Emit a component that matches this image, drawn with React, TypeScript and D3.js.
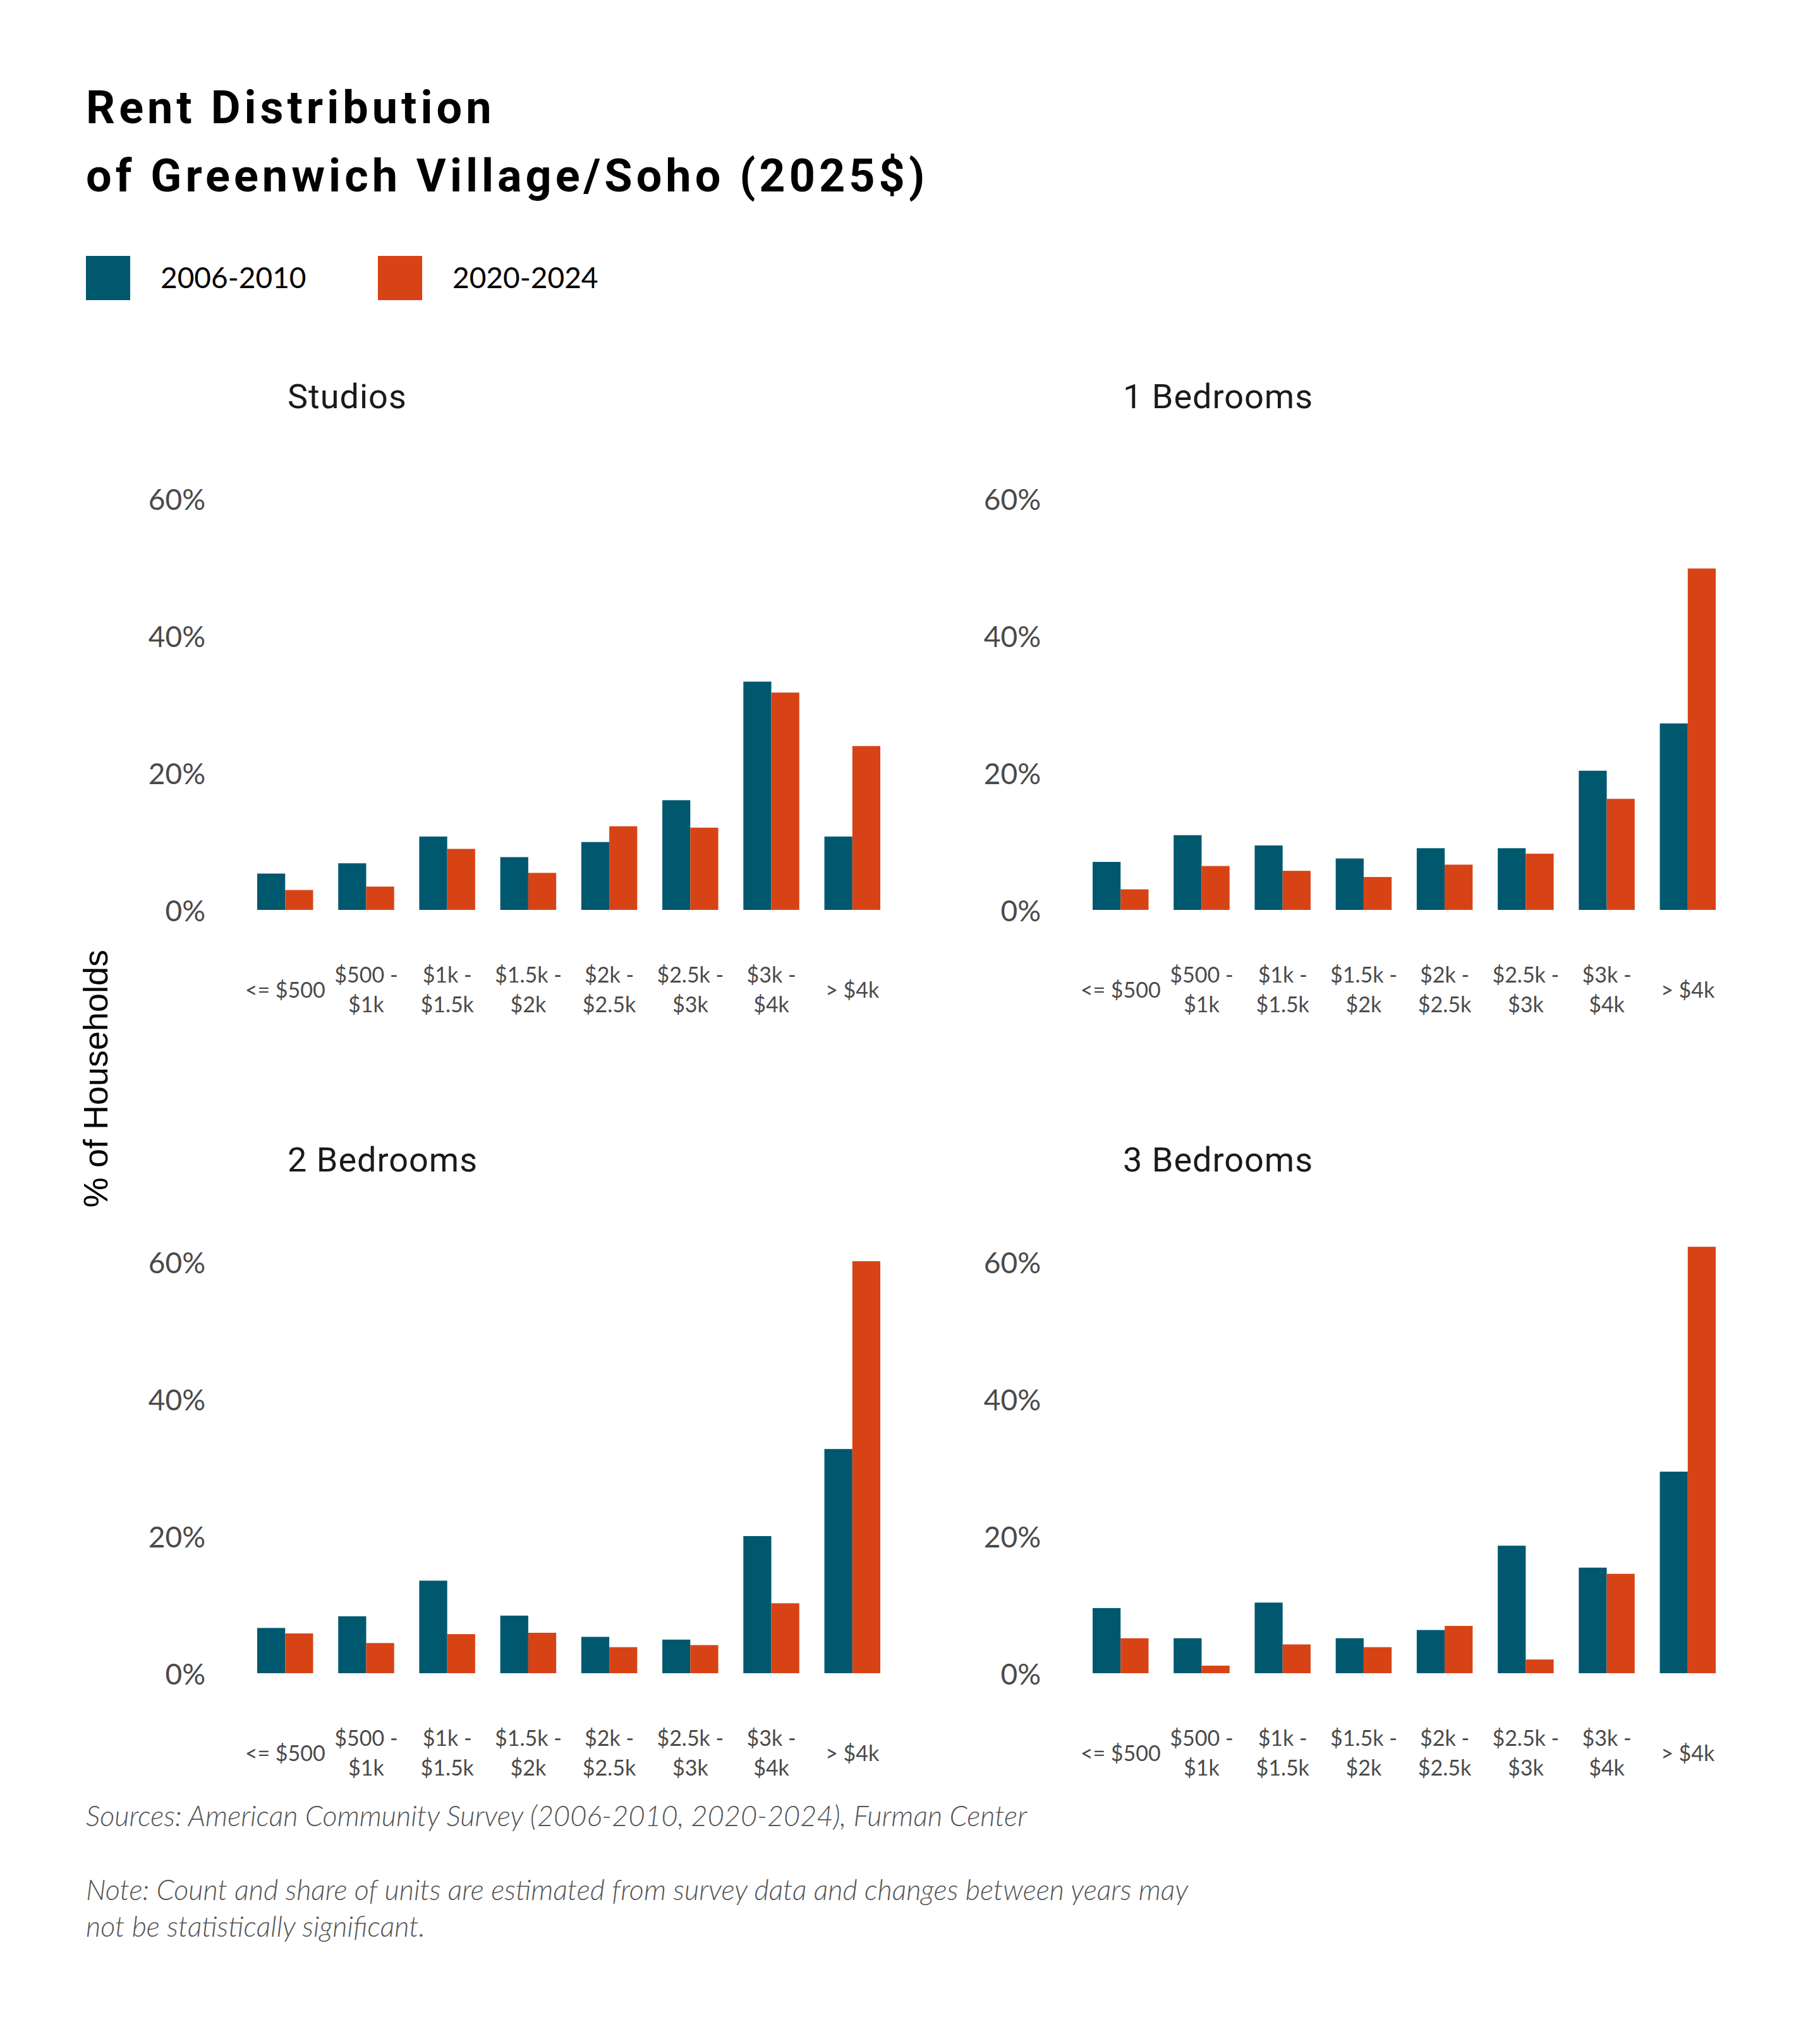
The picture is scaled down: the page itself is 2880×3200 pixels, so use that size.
import React from "react";
import * as d3 from "d3";

const WIDTH = 2880;
const HEIGHT = 3200;

const categories = ["<= $500", "$500 - $1k", "$1k - $1.5k", "$1.5k - $2k", "$2k - $2.5k", "$2.5k - $3k", "$3k - $4k", "> $4k"];
const categoryLines = [
  ["<= $500"],
  ["$500 -", "$1k"],
  ["$1k -", "$1.5k"],
  ["$1.5k -", "$2k"],
  ["$2k -", "$2.5k"],
  ["$2.5k -", "$3k"],
  ["$3k -", "$4k"],
  ["> $4k"],
];
const series = ["2006-2010", "2020-2024"];
const colors = ["#00586F", "#D84315"];

const panelTitles = ["Studios", "1 Bedrooms", "2 Bedrooms", "3 Bedrooms"];
const studios2006 = [5.3, 6.8, 10.7, 7.7, 9.9, 16.0, 33.3, 10.7];
const studios2020 = [2.9, 3.4, 8.9, 5.4, 12.2, 12.0, 31.7, 23.9];
const oneBed2006 = [7.0, 10.9, 9.4, 7.5, 9.0, 9.0, 20.3, 27.2];
const oneBed2020 = [3.0, 6.4, 5.7, 4.8, 6.6, 8.2, 16.2, 49.8];
const twoBed2006 = [6.6, 8.3, 13.5, 8.4, 5.3, 4.9, 20.0, 32.7];
const twoBed2020 = [5.8, 4.4, 5.7, 5.9, 3.8, 4.1, 10.2, 60.1];
const threeBed2006 = [9.5, 5.1, 10.3, 5.1, 6.3, 18.6, 15.4, 29.4];
const threeBed2020 = [5.1, 1.1, 4.2, 3.8, 6.9, 2.0, 14.5, 62.2];

const panelValues = [
  [studios2006, studios2020],
  [oneBed2006, oneBed2020],
  [twoBed2006, twoBed2020],
  [threeBed2006, threeBed2020],
];

// layout of the 2x2 grid
const COL_X = [407, 1729];
const ROW_BASE = [1440, 2648];
const PLOT_W = 986;
const PLOT_H = 651;

const LABEL_FONT = "Lato, 'Open Sans', sans-serif";

function Panel({ title, values, x0, base }: { title: string; values: number[][]; x0: number; base: number }) {
  const x = d3.scaleBand<string>().domain(categories).range([x0, x0 + PLOT_W]).paddingInner(0.31).paddingOuter(0);
  const xSub = d3.scaleBand<string>().domain(series).range([0, x.bandwidth()]).padding(0);
  const y = d3.scaleLinear().domain([0, 60]).range([base, base - PLOT_H]);
  const ticks = y.ticks(3);

  return (
    <g>
      <text x={x0 + 48} y={base - 794} fontFamily="Roboto, sans-serif" fontSize={54} letterSpacing={1} fill="#1a1a1a">
        {title}
      </text>
      {ticks.map((t) => (
        <text key={t} x={x0 - 82} y={y(t)} textAnchor="end" dominantBaseline="central"
          fontFamily={LABEL_FONT} fontSize={46} fill="#4a4a4a">
          {t}%
        </text>
      ))}
      {categories.map((c, i) => (
        <g key={c}>
          {series.map((s, j) => (
            <rect key={s}
              x={(x(c) as number) + (xSub(s) as number)}
              y={y(values[j][i])}
              width={xSub.bandwidth()}
              height={base - y(values[j][i])}
              fill={colors[j]} />
          ))}
          {categoryLines[i].map((line, k, arr) => (
            <text key={k}
              x={(x(c) as number) + x.bandwidth() / 2}
              y={arr.length === 1 ? base + 125 : base + 101 + k * 47}
              textAnchor="middle" dominantBaseline="central"
              fontFamily={LABEL_FONT} fontSize={34} fill="#4a4a4a">
              {line}
            </text>
          ))}
        </g>
      ))}
    </g>
  );
}

export default function App() {
  return (
    <svg width={WIDTH} height={HEIGHT} style={{ position: "absolute", left: 0, top: 0, background: "#fff" }}>
      <rect width={WIDTH} height={HEIGHT} fill="#fff" />

      <text x={136} y={195} fontFamily="Roboto, sans-serif" fontWeight={700} fontSize={72} letterSpacing={6} fill="#000">
        Rent Distribution
      </text>
      <text x={136} y={303} fontFamily="Roboto, sans-serif" fontWeight={700} fontSize={72} letterSpacing={6} fill="#000">
        of Greenwich Village/Soho (2025$)
      </text>

      {series.map((s, i) => (
        <g key={s} transform={`translate(${136 + i * 462},405)`}>
          <rect width={70} height={70} fill={colors[i]} />
          <text x={118} y={51} fontFamily={LABEL_FONT} fontSize={46} fill="#000">{s}</text>
        </g>
      ))}

      <text transform="translate(170,1707) rotate(-90)" textAnchor="middle"
        fontFamily="'Liberation Sans', Arial, sans-serif" fontSize={54} fill="#000">
        % of Households
      </text>

      {panelTitles.map((t, i) => (
        <Panel key={t} title={t} values={panelValues[i]}
          x0={COL_X[i % 2]} base={ROW_BASE[Math.floor(i / 2)]} />
      ))}

      <text x={136} y={2890} fontFamily={LABEL_FONT} fontStyle="italic" fontWeight={300} fontSize={45} fill="#555">
        Sources: American Community Survey (2006-2010, 2020-2024), Furman Center
      </text>
      <text x={136} y={3007} fontFamily={LABEL_FONT} fontStyle="italic" fontWeight={300} fontSize={45} fill="#555">
        Note: Count and share of units are estimated from survey data and changes between years may
      </text>
      <text x={136} y={3065} fontFamily={LABEL_FONT} fontStyle="italic" fontWeight={300} fontSize={45} fill="#555">
        not be statistically significant.
      </text>
    </svg>
  );
}
